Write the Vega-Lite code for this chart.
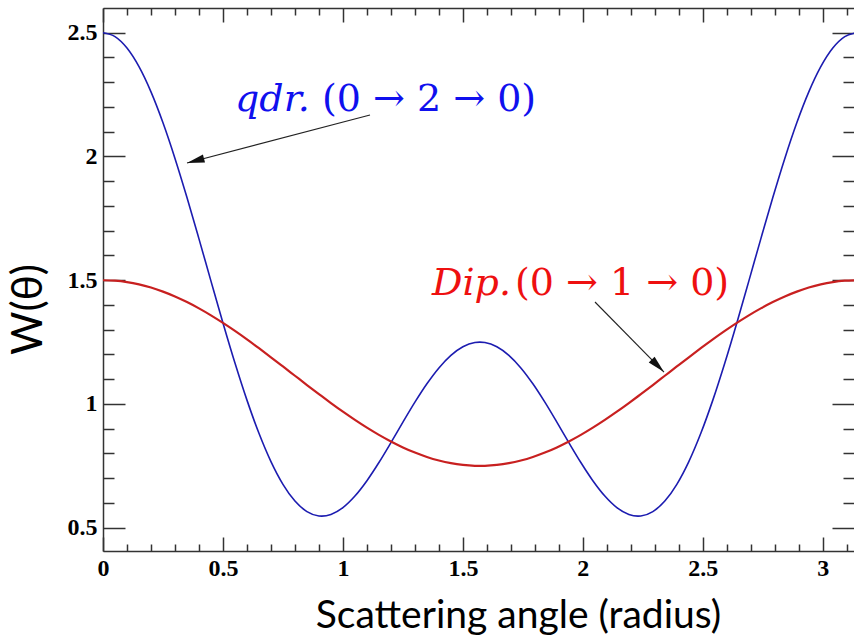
{
  "$schema": "https://vega.github.io/schema/vega-lite/v6.json",
  "width": 751,
  "height": 543,
  "autosize": {"type": "none"},
  "padding": {"left": 103, "top": 8, "right": 0, "bottom": 91},
  "background": "white",
  "config": {
    "view": {"stroke": null},
    "axis": {
      "grid": false,
      "domainColor": "#333333",
      "tickColor": "#333333",
      "domainWidth": 1.5,
      "tickWidth": 1.5,
      "labelFont": "Liberation Serif",
      "labelFontWeight": "bold",
      "labelFontSize": 24,
      "labelColor": "black",
      "titleFont": "Lato",
      "titleFontWeight": "normal",
      "titleColor": "black"
    }
  },
  "datasets": {
    "curves": [
      {"t": 0, "q": 2.5, "d": 1.5},
      {"t": 0.05, "q": 2.4844, "d": 1.4981},
      {"t": 0.1, "q": 2.4382, "d": 1.4925},
      {"t": 0.15, "q": 2.3629, "d": 1.4833},
      {"t": 0.2, "q": 2.2611, "d": 1.4704},
      {"t": 0.25, "q": 2.1362, "d": 1.4541},
      {"t": 0.3, "q": 1.9923, "d": 1.4345},
      {"t": 0.35, "q": 1.8343, "d": 1.4118},
      {"t": 0.4, "q": 1.6672, "d": 1.3863},
      {"t": 0.45, "q": 1.4965, "d": 1.3581},
      {"t": 0.5, "q": 1.3276, "d": 1.3276},
      {"t": 0.55, "q": 1.1657, "d": 1.2951},
      {"t": 0.6, "q": 1.0156, "d": 1.2609},
      {"t": 0.65, "q": 0.8816, "d": 1.2253},
      {"t": 0.7, "q": 0.7673, "d": 1.1887},
      {"t": 0.75, "q": 0.6755, "d": 1.1515},
      {"t": 0.8, "q": 0.6078, "d": 1.1141},
      {"t": 0.85, "q": 0.5652, "d": 1.0767},
      {"t": 0.9, "q": 0.5475, "d": 1.0398},
      {"t": 0.9117, "q": 0.5469, "d": 1.0313},
      {"t": 0.95, "q": 0.5536, "d": 1.0038},
      {"t": 1.0, "q": 0.5814, "d": 0.9689},
      {"t": 1.05, "q": 0.6281, "d": 0.9357},
      {"t": 1.1, "q": 0.6901, "d": 0.9043},
      {"t": 1.15, "q": 0.7635, "d": 0.8751},
      {"t": 1.2, "q": 0.8438, "d": 0.8485},
      {"t": 1.25, "q": 0.9266, "d": 0.8246},
      {"t": 1.3, "q": 1.0073, "d": 0.8037},
      {"t": 1.35, "q": 1.0816, "d": 0.786},
      {"t": 1.4, "q": 1.1458, "d": 0.7717},
      {"t": 1.45, "q": 1.1966, "d": 0.7609},
      {"t": 1.5, "q": 1.2314, "d": 0.7538},
      {"t": 1.55, "q": 1.2484, "d": 0.7503},
      {"t": 1.5708, "q": 1.25, "d": 0.75},
      {"t": 1.5916, "q": 1.2484, "d": 0.7503},
      {"t": 1.6416, "q": 1.2314, "d": 0.7538},
      {"t": 1.6916, "q": 1.1966, "d": 0.7609},
      {"t": 1.7416, "q": 1.1458, "d": 0.7717},
      {"t": 1.7916, "q": 1.0816, "d": 0.786},
      {"t": 1.8416, "q": 1.0073, "d": 0.8037},
      {"t": 1.8916, "q": 0.9266, "d": 0.8246},
      {"t": 1.9416, "q": 0.8438, "d": 0.8485},
      {"t": 1.9916, "q": 0.7635, "d": 0.8751},
      {"t": 2.0416, "q": 0.6901, "d": 0.9043},
      {"t": 2.0916, "q": 0.6281, "d": 0.9357},
      {"t": 2.1416, "q": 0.5814, "d": 0.9689},
      {"t": 2.1916, "q": 0.5536, "d": 1.0038},
      {"t": 2.2299, "q": 0.5469, "d": 1.0313},
      {"t": 2.2416, "q": 0.5475, "d": 1.0398},
      {"t": 2.2916, "q": 0.5652, "d": 1.0767},
      {"t": 2.3416, "q": 0.6078, "d": 1.1141},
      {"t": 2.3916, "q": 0.6755, "d": 1.1515},
      {"t": 2.4416, "q": 0.7673, "d": 1.1887},
      {"t": 2.4916, "q": 0.8816, "d": 1.2253},
      {"t": 2.5416, "q": 1.0156, "d": 1.2609},
      {"t": 2.5916, "q": 1.1657, "d": 1.2951},
      {"t": 2.6416, "q": 1.3276, "d": 1.3276},
      {"t": 2.6916, "q": 1.4965, "d": 1.3581},
      {"t": 2.7416, "q": 1.6672, "d": 1.3863},
      {"t": 2.7916, "q": 1.8343, "d": 1.4118},
      {"t": 2.8416, "q": 1.9923, "d": 1.4345},
      {"t": 2.8916, "q": 2.1362, "d": 1.4541},
      {"t": 2.9416, "q": 2.2611, "d": 1.4704},
      {"t": 2.9916, "q": 2.3629, "d": 1.4833},
      {"t": 3.0416, "q": 2.4382, "d": 1.4925},
      {"t": 3.0916, "q": 2.4844, "d": 1.4981},
      {"t": 3.1416, "q": 2.5, "d": 1.5}
    ],
    "arrows": [
      {"t": 1.1128, "W": 2.1677, "t2": 0.3501, "W2": 1.9737},
      {"t": 2.0505, "W": 1.4121, "t2": 2.3381, "W2": 1.1292}
    ]
  },
  "resolve": {"axis": {"x": "independent", "y": "independent"}},
  "layer": [
    {
      "data": {"name": "curves"},
      "mark": {"type": "line", "color": "#1c1cb0", "strokeWidth": 1.6, "clip": true, "interpolate": "monotone"},
      "encoding": {
        "x": {"field": "t", "type": "quantitative",
          "scale": {"domain": [0, 3.13], "nice": false, "zero": false},
          "axis": {"orient": "bottom", "values": [0, 0.5, 1, 1.5, 2, 2.5, 3], "tickSize": -14, "labelPadding": 19,
            "labelFlush": false, "labelOverlap": false, "format": "~g",
            "title": "Scattering angle (radius)", "titleFontSize": 39, "titleX": 415, "titleY": 76,
            "titleBaseline": "alphabetic", "titleAlign": "center"}},
        "y": {"field": "q", "type": "quantitative",
          "scale": {"domain": [0.406, 2.6], "nice": false, "zero": false},
          "axis": {"orient": "left", "values": [0.5, 1, 1.5, 2, 2.5], "tickSize": -22, "labelPadding": 28,
            "labelOverlap": false, "labelFlush": false, "format": "~g",
            "title": "W(θ)", "titleFontSize": 42, "titleX": -75, "titleY": 301,
            "titleBaseline": "middle", "titleAlign": "center"}}
      }
    },
    {
      "data": {"name": "curves"},
      "mark": {"type": "line", "color": "#c82020", "strokeWidth": 2.2, "clip": true, "interpolate": "monotone"},
      "encoding": {
        "x": {"field": "t", "type": "quantitative",
          "axis": {"orient": "bottom", "values": [0.1, 0.2, 0.3, 0.4, 0.6, 0.7, 0.8, 0.9, 1.1, 1.2, 1.3, 1.4, 1.6, 1.7, 1.8, 1.9, 2.1, 2.2, 2.3, 2.4, 2.6, 2.7, 2.8, 2.9, 3.1],
            "tickSize": -7, "labels": false, "domain": false, "title": null}},
        "y": {"field": "d", "type": "quantitative",
          "axis": {"orient": "left", "values": [0.6, 0.7, 0.8, 0.9, 1.1, 1.2, 1.3, 1.4, 1.6, 1.7, 1.8, 1.9, 2.1, 2.2, 2.3, 2.4],
            "tickSize": -11, "labels": false, "domain": false, "title": null}}
      }
    },
    {
      "data": {"name": "arrows"},
      "mark": {"type": "rule", "color": "#222222", "strokeWidth": 1.1},
      "encoding": {
        "x": {"field": "t", "type": "quantitative",
          "axis": {"orient": "top", "values": [0, 0.5, 1, 1.5, 2, 2.5, 3], "tickSize": -14, "labels": false, "domain": true, "title": null}},
        "y": {"field": "W", "type": "quantitative",
          "axis": {"orient": "right", "values": [0.5, 1, 1.5, 2, 2.5], "tickSize": -22, "labels": false, "domain": false, "title": null}},
        "x2": {"field": "t2"},
        "y2": {"field": "W2"}
      }
    },
    {
      "data": {"values": [{"t": 0.3501, "W": 1.9737}]},
      "mark": {"type": "point", "shape": "M0,0L-0.42,1.8L0.42,1.8Z", "filled": true, "color": "#111111", "opacity": 1, "size": 380, "angle": 255.3},
      "encoding": {
        "x": {"field": "t", "type": "quantitative",
          "axis": {"orient": "top", "values": [0.1, 0.2, 0.3, 0.4, 0.6, 0.7, 0.8, 0.9, 1.1, 1.2, 1.3, 1.4, 1.6, 1.7, 1.8, 1.9, 2.1, 2.2, 2.3, 2.4, 2.6, 2.7, 2.8, 2.9, 3.1],
            "tickSize": -7, "labels": false, "domain": false, "title": null}},
        "y": {"field": "W", "type": "quantitative",
          "axis": {"orient": "right", "values": [0.6, 0.7, 0.8, 0.9, 1.1, 1.2, 1.3, 1.4, 1.6, 1.7, 1.8, 1.9, 2.1, 2.2, 2.3, 2.4],
            "tickSize": -11, "labels": false, "domain": false, "title": null}}
      }
    },
    {
      "data": {"values": [{"t": 2.3381, "W": 1.1292}]},
      "mark": {"type": "point", "shape": "M0,0L-0.42,1.8L0.42,1.8Z", "filled": true, "color": "#111111", "opacity": 1, "size": 380, "angle": 135.4},
      "encoding": {
        "x": {"field": "t", "type": "quantitative", "axis": null},
        "y": {"field": "W", "type": "quantitative", "axis": null}
      }
    },
    {
      "data": {"values": [{"t": 0.5501, "W": 2.1838, "label": "qdr."}]},
      "mark": {"type": "text", "font": "DejaVu Serif", "fontStyle": "italic", "fontSize": 38, "color": "#1010ee", "align": "left", "baseline": "alphabetic"},
      "encoding": {
        "x": {"field": "t", "type": "quantitative", "axis": null},
        "y": {"field": "W", "type": "quantitative", "axis": null},
        "text": {"field": "label"}
      }
    },
    {
      "data": {"values": [{"t": 0.9127, "W": 2.1838, "label": "(0 → 2 → 0)"}]},
      "mark": {"type": "text", "font": "DejaVu Serif", "fontSize": 38, "color": "#1010ee", "align": "left", "baseline": "alphabetic"},
      "encoding": {
        "x": {"field": "t", "type": "quantitative", "axis": null},
        "y": {"field": "W", "type": "quantitative", "axis": null},
        "text": {"field": "label"}
      }
    },
    {
      "data": {"values": [{"t": 1.3712, "W": 1.4404, "label": "Dip."}]},
      "mark": {"type": "text", "font": "DejaVu Serif", "fontStyle": "italic", "fontSize": 38, "color": "#ee1010", "align": "left", "baseline": "alphabetic"},
      "encoding": {
        "x": {"field": "t", "type": "quantitative", "axis": null},
        "y": {"field": "W", "type": "quantitative", "axis": null},
        "text": {"field": "label"}
      }
    },
    {
      "data": {"values": [{"t": 1.7171, "W": 1.4404, "label": "(0 → 1 → 0)"}]},
      "mark": {"type": "text", "font": "DejaVu Serif", "fontSize": 38, "color": "#ee1010", "align": "left", "baseline": "alphabetic"},
      "encoding": {
        "x": {"field": "t", "type": "quantitative", "axis": null},
        "y": {"field": "W", "type": "quantitative", "axis": null},
        "text": {"field": "label"}
      }
    }
  ]
}
